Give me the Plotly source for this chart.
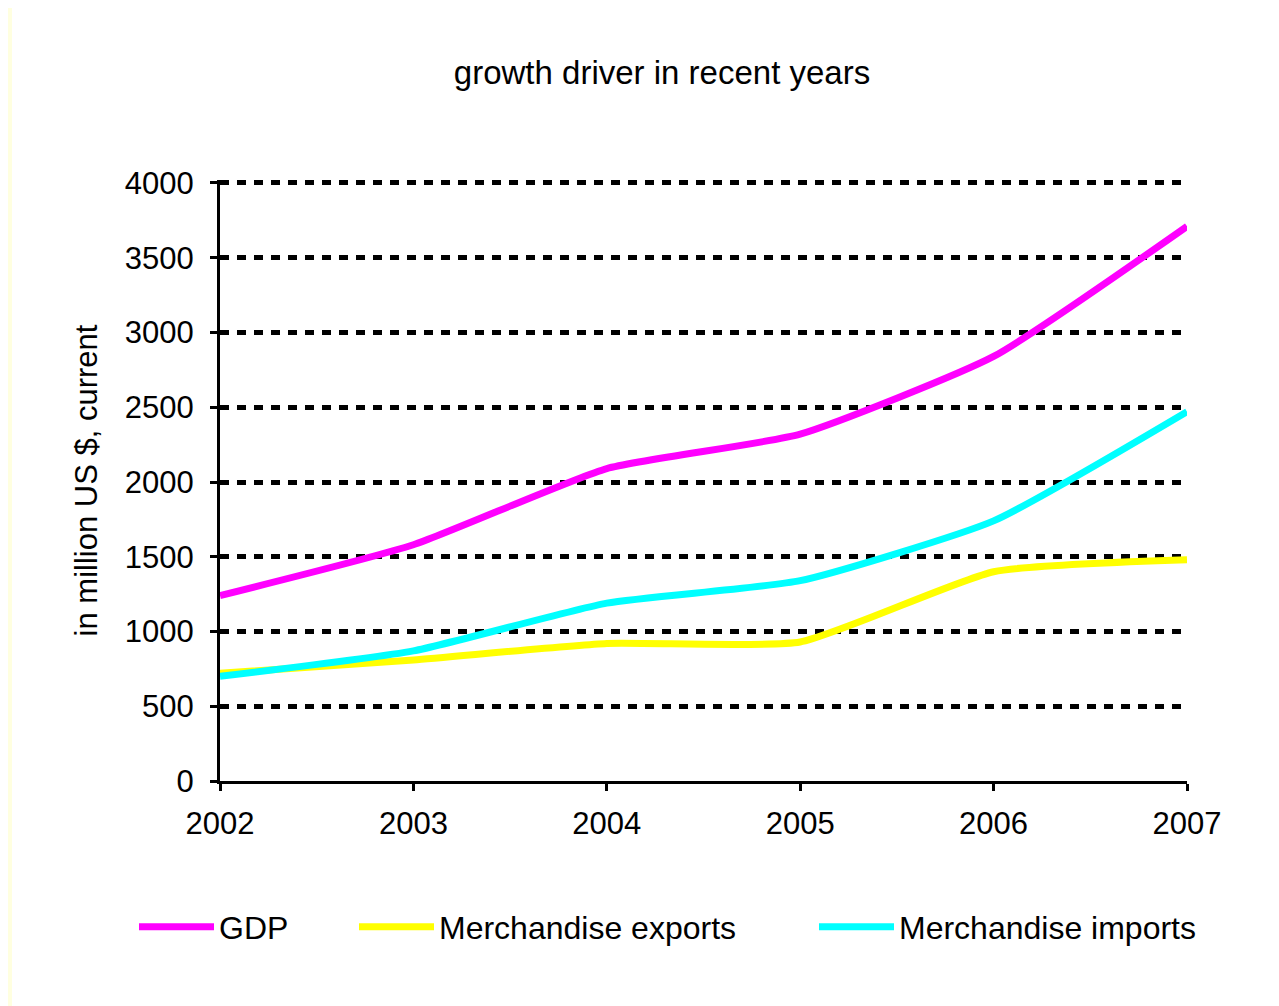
import plotly.graph_objects as go

years = [2002, 2003, 2004, 2005, 2006, 2007]
gdp = [1240, 1580, 2090, 2320, 2840, 3710]
exports = [720, 810, 920, 930, 1400, 1480]
imports = [700, 870, 1190, 1340, 1740, 2470]
y_ticks = [0, 500, 1000, 1500, 2000, 2500, 3000, 3500, 4000]

OFF = 8  # browser body margin
W, H = 1279 - OFF, 1006 - OFF
L = 220 - OFF
R = 1279 - 1187
T = 180 - OFF
B = 1006 - 781
pw, ph = W - L - R, H - T - B

def px_x(p):  # reference page pixel -> paper x
    return (p - OFF - L) / pw

def px_y(p):  # reference page pixel -> paper y
    return (H - B - (p - OFF)) / ph

FONT = "Liberation Sans"

fig = go.Figure()
series = [
    ("GDP", gdp, "#ff00ff", "legend"),
    ("Merchandise exports", exports, "#ffff00", "legend2"),
    ("Merchandise imports", imports, "#00ffff", "legend3"),
]
for name, vals, col, lg in series:
    fig.add_trace(go.Scatter(
        x=years, y=vals, name=name, mode="lines",
        line=dict(color=col, width=7, shape="spline", smoothing=0.5),
        legend=lg, showlegend=True,
    ))

legend_common = dict(
    orientation="h", bgcolor="rgba(0,0,0,0)", itemwidth=75,
    font=dict(family=FONT, size=32, color="black"),
    xanchor="left", yanchor="middle", visible=True,
)

fig.update_layout(
    width=W, height=H, autosize=False, showlegend=True,
    margin=dict(l=L, r=R, t=T, b=B, pad=0),
    paper_bgcolor="#ffffe0",
    plot_bgcolor="white",
    title=dict(text="growth driver in recent years", x=px_x(662), xref="paper",
               xanchor="center", y=1 - (72 - OFF) / H, yanchor="middle",
               font=dict(family=FONT, size=33, color="black")),
    xaxis=dict(range=[2002, 2007], tickvals=years, ticktext=[str(y) for y in years],
               showgrid=False, zeroline=False, showline=True, linecolor="black",
               linewidth=3, ticks="outside", ticklen=7, tickwidth=3, tickcolor="black",
               ticklabelstandoff=6,
               tickfont=dict(family=FONT, size=31, color="black")),
    yaxis=dict(range=[0, 4020], tickvals=y_ticks, showgrid=True, gridcolor="black",
               gridwidth=5, griddash="9px,8px", zeroline=False, showline=True,
               linecolor="black", linewidth=3, ticks="outside", ticklen=7, tickwidth=3,
               tickcolor="black", ticklabelstandoff=10,
               tickfont=dict(family=FONT, size=31, color="black"),
               title=dict(text="in million US $, current", standoff=18,
                          font=dict(family=FONT, size=31, color="black"))),
    legend=dict(x=px_x(134), y=px_y(927), **legend_common),
    legend2=dict(x=px_x(354), y=px_y(927), **legend_common),
    legend3=dict(x=px_x(814), y=px_y(927), **legend_common),
    shapes=[dict(type="rect", xref="paper", yref="paper",
                 x0=px_x(12), x1=px_x(1300), y0=px_y(1030), y1=px_y(7),
                 fillcolor="white", line=dict(width=0), layer="below")],
)

fig.write_html("out.html")
